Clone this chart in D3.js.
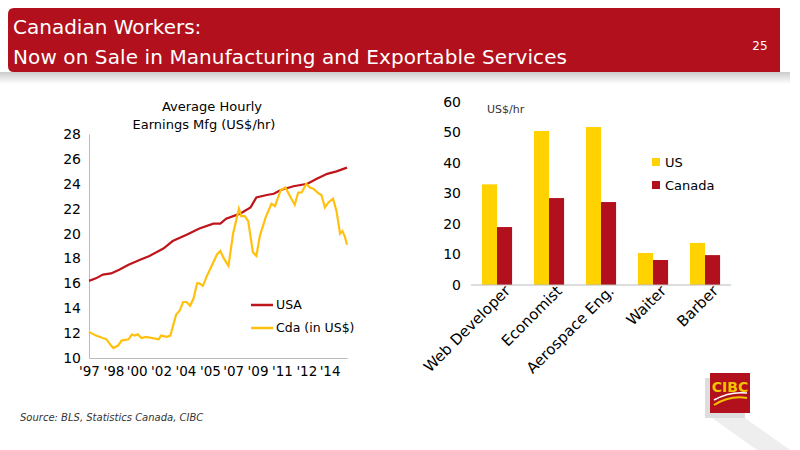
<!DOCTYPE html><html><head><meta charset="utf-8"><script src="https://cdn.jsdelivr.net/npm/d3@7"></script>
<style>body{margin:0;background:#fff}text{font-family:"DejaVu Sans",Verdana,sans-serif}</style></head><body>
<svg id="c" width="800" height="450"></svg>
<script>
const usaMonths=[0,6,12,19,26,34,44,52,64,72,84,95,107,113,118,130,139,144,153,159,165,176,188,196,205,213,222];
const usaValues=[16.2,16.4,16.7,16.8,17.1,17.5,17.9,18.2,18.8,19.4,19.9,20.4,20.8,20.8,21.2,21.6,22.1,22.9,23.1,23.2,23.5,23.8,24.0,24.4,24.8,25.0,25.3];
const cdaMonths=[0,6,15,19,21,25,28,34,37,39,42,45,49,60,62,67,70,75,78,81,84,87,90,93,95,98,101,106,110,113,116,120,124,129,131,134,137,141,144,147,152,157,160,165,169,173,177,180,183,187,190,193,198,200,203,206,210,213,216,218,220,222];
const cdaValues=[12.1,11.8,11.5,11.0,10.8,11.0,11.4,11.5,11.9,11.8,11.9,11.6,11.7,11.5,11.8,11.7,11.8,13.5,13.8,14.5,14.5,14.2,14.8,16.0,16.0,15.8,16.5,17.5,18.3,18.6,18.0,17.4,20.0,22.0,21.4,21.4,21.0,18.5,18.2,19.8,21.3,22.4,22.2,23.5,23.7,23.0,22.3,23.3,23.3,24.0,23.7,23.6,23.2,23.1,22.1,22.5,22.8,21.8,20.0,20.2,19.8,19.1];
const xTickMonths=[0,21,41,62,83,104,124,145,166,187,207];
const xTickLabels=["'97","'98","'00","'02","'04","'05","'07","'09","'11","'12","'14"];
const leftYTicks=[10,12,14,16,18,20,22,24,26,28];
const jobs=["Web Developer","Economist","Aerospace Eng.","Waiter","Barber"];
const usWage=[33,50.5,51.8,10.5,13.8];
const cdaWage=[19,28.5,27.2,8.2,9.8];
const rightYTicks=[0,10,20,30,40,50,60];

const svg=d3.select("#c");
const hg=svg.append("defs").append("linearGradient").attr("id","sh").attr("x1",0).attr("x2",0).attr("y1",0).attr("y2",1);
hg.append("stop").attr("offset",0).attr("stop-color","#ccc");hg.append("stop").attr("offset",1).attr("stop-color","#fff");
svg.append("rect").attr("x",0).attr("y",72).attr("width",790).attr("height",12).attr("fill","url(#sh)");
svg.append("path").attr("d","M14,8 H780 V72 H14 Q8,72 8,66 V14 Q8,8 14,8 Z").attr("fill","#b1101c");
svg.append("text").attr("x",13).attr("y",34).attr("fill","#fff").attr("font-size",20).text("Canadian Workers:");
svg.append("text").attr("x",13).attr("y",64).attr("fill","#fff").attr("font-size",20).attr("textLength",554).text("Now on Sale in Manufacturing and Exportable Services");
svg.append("text").attr("x",760).attr("y",50).attr("fill","#fff").attr("font-size",12).attr("text-anchor","middle").text("25");

const x=d3.scaleLinear().domain([0,222]).range([89,347]);
const y=d3.scaleLinear().domain([10,28]).range([358,134]);
const gl=svg.append("g");
gl.append("g").attr("transform","translate(89,0)").call(d3.axisLeft(y).tickValues(leftYTicks).tickSize(0).tickPadding(8))
 .call(g=>{g.select(".domain").attr("stroke","#bbb");g.selectAll("text").attr("font-size",14).attr("fill","#000")});
gl.append("g").attr("transform","translate(0,358)").call(d3.axisBottom(x).tickValues(xTickMonths).tickFormat((d,i)=>xTickLabels[i]).tickSize(0).tickPadding(8))
 .call(g=>{g.select(".domain").attr("stroke","#bbb");g.selectAll("text").attr("font-size",13.5).attr("fill","#000")});
const line=d3.line().x(d=>x(d[0])).y(d=>y(d[1]));
gl.append("path").datum(usaMonths.map((m,i)=>[m,usaValues[i]])).attr("d",line).attr("fill","none").attr("stroke","#c0141c").attr("stroke-width",2.2);
gl.append("path").datum(cdaMonths.map((m,i)=>[m,cdaValues[i]])).attr("d",line).attr("fill","none").attr("stroke","#ffc10e").attr("stroke-width",2.2);
gl.append("text").attr("x",212).attr("y",111).attr("text-anchor","middle").attr("font-size",13).text("Average Hourly");
gl.append("text").attr("x",204).attr("y",129).attr("text-anchor","middle").attr("font-size",13).text("Earnings Mfg (US$/hr)");
[["USA","#c0141c",305],["Cda (in US$)","#ffc10e",328]].forEach(([t,c,yy])=>{
 gl.append("line").attr("x1",251).attr("x2",273).attr("y1",yy).attr("y2",yy).attr("stroke",c).attr("stroke-width",2.5);
 gl.append("text").attr("x",276).attr("y",yy+4).attr("font-size",12.5).text(t);});

const xb=d3.scaleBand().domain(jobs).range([471,731]).paddingInner(0.42).paddingOuter(0.21);
const yb=d3.scaleLinear().domain([0,60]).range([285,102]);
const gr=svg.append("g");
gr.append("g").attr("transform","translate(471,0)").call(d3.axisLeft(yb).tickValues(rightYTicks).tickSize(0).tickPadding(10))
 .call(g=>{g.select(".domain").remove();g.selectAll("text").attr("font-size",14).attr("fill","#000")});
const bw=xb.bandwidth()/2;
gr.selectAll(".us").data(jobs).join("rect").attr("x",d=>xb(d)).attr("width",bw).attr("y",(d,i)=>yb(usWage[i])).attr("height",(d,i)=>yb(0)-yb(usWage[i])).attr("fill","#ffd200");
gr.selectAll(".ca").data(jobs).join("rect").attr("x",d=>xb(d)+bw).attr("width",bw).attr("y",(d,i)=>yb(cdaWage[i])).attr("height",(d,i)=>yb(0)-yb(cdaWage[i])).attr("fill","#b1101c");
gr.append("line").attr("x1",471).attr("x2",731).attr("y1",285).attr("y2",285).attr("stroke","#bbb");
gr.selectAll(".lbl").data(jobs).join("text").attr("font-size",15).attr("text-anchor","end")
 .attr("transform",d=>`translate(${xb(d)+xb.bandwidth()/2+14},${292}) rotate(-45)`).text(d=>d);
gr.append("text").attr("x",487).attr("y",113).attr("font-size",11).attr("fill","#333").text("US$/hr");
[["US","#ffd200",163],["Canada","#b1101c",186]].forEach(([t,c,yy])=>{
 gr.append("rect").attr("x",652).attr("y",yy-5).attr("width",8).attr("height",8).attr("fill",c);
 gr.append("text").attr("x",665).attr("y",yy+4).attr("font-size",13).text(t);});

svg.append("text").attr("x",20).attr("y",421).attr("font-size",10).attr("font-style","italic").attr("fill","#333").text("Source: BLS, Statistics Canada, CIBC");
svg.append("path").attr("d","M712,418 L745,418 L790,450 L757,450 Z").attr("fill","#eee");
svg.append("rect").attr("x",705).attr("y",378).attr("width",40).attr("height",40).attr("fill","#ddd");
svg.append("rect").attr("x",710).attr("y",373).attr("width",40).attr("height",40).attr("fill","#b1101c");
svg.append("text").attr("x",730).attr("y",392).attr("text-anchor","middle").attr("font-size",14).attr("font-weight","bold").attr("font-family","Liberation Serif").attr("fill","#f2c300").text("CIBC");
svg.append("path").attr("d","M714,405 Q730,395 747,398").attr("stroke","#f2c300").attr("stroke-width",2).attr("fill","none");
svg.append("path").attr("d","M714,400 Q730,391 747,393").attr("stroke","#fff").attr("stroke-width",1.5).attr("fill","none");
</script></body></html>
